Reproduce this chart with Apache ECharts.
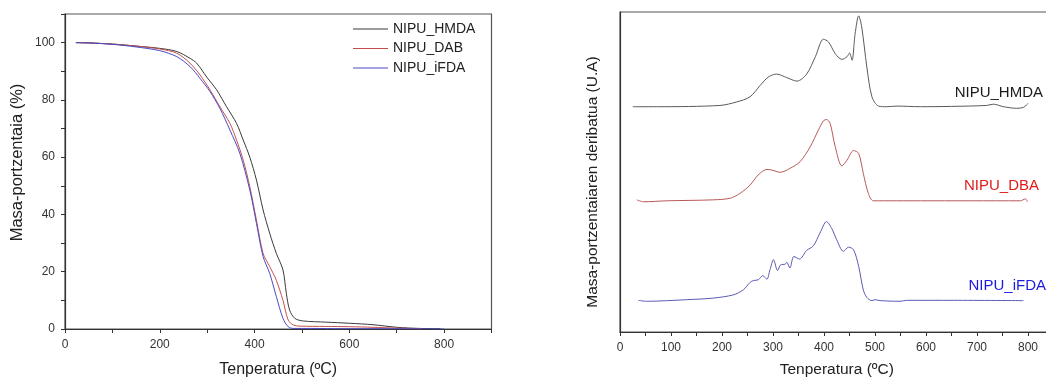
<!DOCTYPE html>
<html><head><meta charset="utf-8">
<script src="https://cdn.jsdelivr.net/npm/echarts@6/dist/echarts.min.js"></script>
<style>html,body{margin:0;padding:0;background:#fff}#c{width:1046px;height:378px}</style>
</head><body><div id="c"></div>
<script>
// ---- TGA (left) ----
const seriesNames = ['NIPU_HMDA','NIPU_DAB','NIPU_iFDA'];
const hmdaTemp = [23,50,100,150,200,236,264,278,299,320,341,362,376,390,404,418,432,446,460,467,474,485,503,550,601,650,700,749,792];
const hmdaMass = [100,99.9,99.5,98.8,98,96.9,94.5,92.8,88,83.5,77.6,71.8,66,60,52,41.6,33.4,26.4,20.6,12.5,6.6,3.7,2.8,2.4,2.0,1.5,0.6,0.2,0.1];
const dabTemp = [23,50,100,150,200,236,264,285,306,327,348,362,376,390,404,418,432,446,460,471,482,496,550,601,650,700,753];
const dabMass = [100,99.9,99.5,98.8,97.8,96.3,92.8,88.7,83.5,77.6,71.8,66,59,49.7,38,26.4,21.8,17,10,3.1,1.4,1.0,0.9,0.8,0.6,0.3,0.1];
const ifdaTemp = [23,50,100,150,200,236,264,285,306,327,348,369,390,404,418,432,446,460,471,482,520,587,650,700,800];
const ifdaMass = [100,99.9,99.4,98.5,97.2,95.1,91.6,87.5,82.9,77,69.5,61.3,48.5,36.9,25.3,19.4,11.3,3.7,0.8,0.2,0.2,0.1,0.1,0.1,0];

// ---- DTG (right), arbitrary units with vertical offsets ----
const derivNames = ['NIPU_HMDA','NIPU_DBA','NIPU_iFDA'];
const dHmdaTemp = [25,72,196,229,255,275,291,307,327,347,366,383,399,409,422,435,445,450,455,461,468,474,484,494,507,523,543,589,650,719,732,752,778,791,800];
const dHmdaVal  = [70.4,70.4,70.8,71.9,73.5,77.1,79.7,80.6,79.5,78.4,80.6,86,91.5,90.6,87,85.2,86,87.2,84.9,93.2,98.8,95.3,82.8,73.5,70.6,70.4,70.6,70.4,70.5,70.8,71.2,70.4,69.9,70.2,71.4];
const dDbaTemp = [33,46,92,183,216,235,255,271,288,298,314,333,353,373,389,399,405,412,422,435,445,458,468,477,487,497,589,785,795,799];
const dDbaVal  = [41.3,40.7,41,41.3,41.8,43.3,45.9,49.1,50.8,50.6,49.9,51.1,53.2,57.9,63.1,66,66.4,65.2,57.9,51.9,53.7,56.7,55.8,49.6,43.3,41,41,41,41.6,40.7];
const dIfdaTemp = [36,52,131,183,222,242,255,262,271,280,288,294,301,309,315,324,327,333,341,352,366,379,392,405,415,425,438,448,458,468,477,484,494,500,510,549,562,654,791];
const dIfdaVal  = [9.9,9.6,10.1,10.6,11.6,13.2,15.5,16.1,16.3,17.6,16.5,19.4,22.6,19.2,21,21.2,21.8,20,23.6,22.8,25.5,26.9,30.9,34.5,32.4,28.8,25.2,26.5,25.7,20.5,13.2,10.8,9.8,10.1,9.8,9.6,9.9,9.9,9.8];

const zip = (a,b) => a.map((v,i)=>[v,b[i]]);
const font = 'Liberation Sans, Arial, sans-serif';
const tga = [zip(hmdaTemp,hmdaMass), zip(dabTemp,dabMass), zip(ifdaTemp,ifdaMass)];
const dtg = [zip(dHmdaTemp,dHmdaVal), zip(dDbaTemp,dDbaVal), zip(dIfdaTemp,dIfdaVal)];
const tgaColors = ['#3a3a3a','#c4504c','#4a4ac4'];
const dtgColors = ['#5a5a5a','#b85858','#5a5ab4'];
const labelColors = ['#1a1a1a','#e01a1a','#1a1ae0'];

const chart = echarts.init(document.getElementById('c'));
const axisLine = {show:true, lineStyle:{color:'#333', width:1.2}};
chart.setOption({
  animation:false,
  textStyle:{fontFamily:font},
  grid:[
    {left:65, top:14, width:426.5, height:315, show:true, borderColor:'#555', borderWidth:1.2, backgroundColor:'transparent', outerBoundsMode:'none', containLabel:false},
    {left:620, top:12, width:433.5, height:320, show:true, borderColor:'#555', borderWidth:1.2, backgroundColor:'transparent', outerBoundsMode:'none', containLabel:false}
  ],
  legend:{
    data:seriesNames, orient:'vertical', left:353, top:21, padding:0, itemWidth:35, itemHeight:1, itemGap:3.5,
    icon:'rect', textStyle:{fontSize:14, color:'#222', fontFamily:font, lineHeight:16}
  },
  xAxis:[
    {gridIndex:0, type:'value', min:0, max:900, interval:100,
     axisLine:axisLine, axisTick:{show:true, length:4, lineStyle:{color:'#333'}}, splitLine:{show:false},
     axisLabel:{margin:10, fontSize:12, color:'#333', formatter:v=> (v%200===0 && v<=800)? String(v):''},
     name:'Tenperatura (ºC)', nameLocation:'middle', nameGap:33, nameTextStyle:{fontSize:16, color:'#222'}},
    {gridIndex:1, type:'value', min:0, max:850, interval:50,
     axisLine:axisLine, axisTick:{show:true, length:4, lineStyle:{color:'#333'}}, splitLine:{show:false},
     axisLabel:{margin:10, fontSize:12, color:'#333', formatter:v=> (v%100===0 && v<=800)? String(v):''},
     name:'Tenperatura (ºC)', nameLocation:'middle', nameGap:30, nameTextStyle:{fontSize:15.5, color:'#222'}}
  ],
  yAxis:[
    {gridIndex:0, type:'value', min:0, max:110, interval:10,
     axisLine:axisLine, axisTick:{show:true, length:4, lineStyle:{color:'#333'}}, splitLine:{show:false},
     axisLabel:{margin:10, fontSize:12, color:'#333', formatter:v=> (v%20===0 && v<=100)? String(v):''},
     name:'Masa-portzentaia (%)', nameLocation:'middle', nameGap:39,
     nameTextStyle:{fontSize:16.5, color:'#222', padding:[0,0,0,18]}},
    {gridIndex:1, type:'value', min:0, max:100,
     axisLine:axisLine, axisTick:{show:false}, axisLabel:{show:false}, splitLine:{show:false},
     name:'Masa-portzentaiaren deribatua (U.A)', nameLocation:'middle', nameGap:19,
     nameTextStyle:{fontSize:15.5, color:'#222', padding:[0,20,0,0]}}
  ],
  series: [
    ...tga.map((d,i)=>({name:seriesNames[i], type:'line', xAxisIndex:0, yAxisIndex:0, data:d, smooth:0.3,
      showSymbol:false, lineStyle:{width:1, color:tgaColors[i]}, itemStyle:{color:tgaColors[i]}})),
    ...dtg.map((d,i)=>({name:'d'+derivNames[i], type:'line', xAxisIndex:1, yAxisIndex:1, data:d, smooth:0.3,
      showSymbol:false, lineStyle:{width:1, color:dtgColors[i]}, itemStyle:{color:dtgColors[i]}}))
  ],
  graphic: derivNames.map((n,i)=>({type:'text', right:[3,7,0][i], top:[85,178,278][i],
    style:{text:n, fill:labelColors[i], font:'15px '+font}}))
});
</script></body></html>
